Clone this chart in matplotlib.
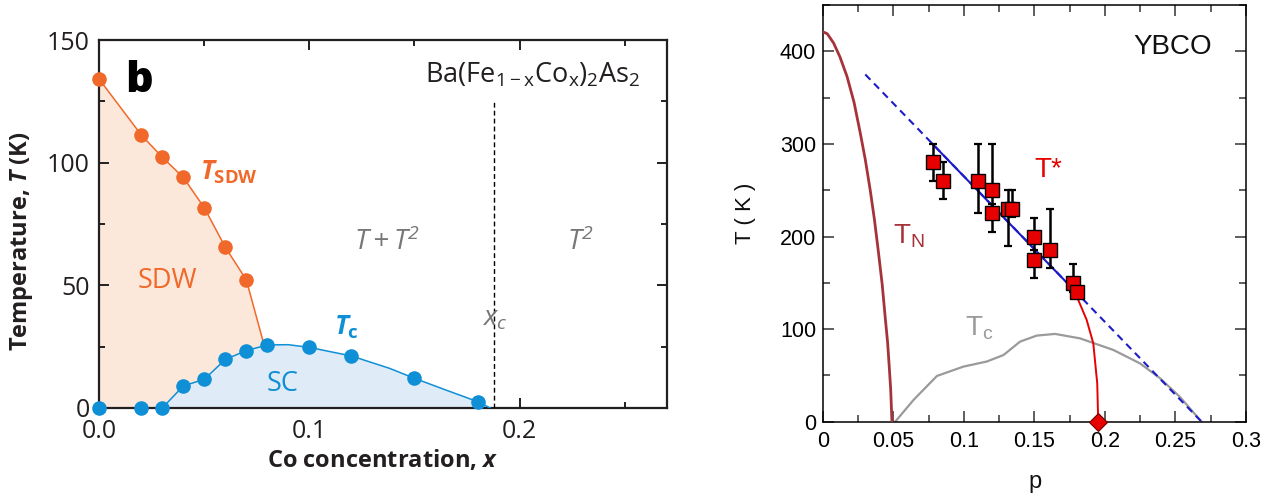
import matplotlib
matplotlib.use("Agg")
import matplotlib.pyplot as plt
from matplotlib.ticker import MultipleLocator

plt.rcParams['font.family'] = ['Open Sans', 'DejaVu Sans']
plt.rcParams['mathtext.fontset'] = 'custom'
plt.rcParams['mathtext.rm'] = 'Open Sans'
plt.rcParams['mathtext.it'] = 'Open Sans:italic:bold'
plt.rcParams['mathtext.bf'] = 'Open Sans:bold'

# ---------------- Left panel data: Ba(Fe1-xCox)2As2 ----------------
sdw_x = [0.0, 0.02, 0.03, 0.04, 0.05, 0.06, 0.07]
sdw_T = [134, 111.3, 102.2, 94, 81.6, 65.5, 52.2]
sdw_end_x = [0.078]
sdw_end_T = [27]

tc_x = [0.0, 0.02, 0.03, 0.04, 0.05, 0.06, 0.07, 0.08, 0.10, 0.12, 0.15, 0.18]
tc_T = [0, 0, 0, 9, 11.7, 19.8, 23.4, 25.7, 24.7, 21.2, 12.1, 2.6]
# points
tc_curve_x = [0.03, 0.04, 0.05, 0.06, 0.07, 0.08, 0.09, 0.10, 0.12, 0.138, 0.15, 0.165, 0.18, 0.186]
tc_curve_T = [0, 9, 11.7, 19.8, 23.4, 25.7, 25.8, 24.7, 21.2, 16.2, 12.1, 7.3, 2.6, 0]

x_c = 0.188
x_c_top = 125

# ---------------- Right panel data: YBCO ----------------
tn_p = [0, 0.003, 0.0075, 0.012, 0.017, 0.022, 0.0264, 0.030, 0.0335, 0.0365,
        0.0394, 0.042, 0.0441, 0.0458, 0.047, 0.048, 0.0489]
tn_T = [421, 419, 409, 394, 373, 345, 312, 283, 250, 218,
        182, 148, 113, 86, 59, 35, 0]

tcy_p = [0.0512, 0.0642, 0.0808, 0.0996, 0.1162, 0.128, 0.1398, 0.1516, 0.1646,
         0.1823, 0.2059, 0.2248, 0.239, 0.253, 0.2685]
tcy_T = [0, 23.5, 49.4, 59.5, 65, 72, 86.5, 93, 94.8, 90, 77.5, 63, 47, 27, 0]

tstar_line_p = [0.03, 0.2685]
tstar_line_T = [375, 0]
tstar_solid_p = [0.077, 0.18]
tstar_solid_T = [301, 139]

red_p = [0.18, 0.181, 0.187, 0.1917, 0.1945, 0.1952]
red_T = [140, 131.6, 110, 84.7, 41.5, 0]

qcp_p = [0.195]
qcp_T = [0]

sq_p = [0.078, 0.085, 0.110, 0.120, 0.120, 0.131, 0.134, 0.150, 0.150, 0.161, 0.177, 0.180]
sq_T = [280, 260, 260, 250, 225, 230, 230, 200, 175, 185, 150, 140]
sq_lo = [260, 240, 225, 230, 205, 190, 221, 180, 155, 166, 140, 135]
sq_hi = [300, 280, 300, 300, 235, 250, 250, 220, 185, 230, 170, 150]

# ---------------- Figure ----------------
fig = plt.figure(figsize=(12.74, 4.97), dpi=100)

ORANGE = '#f0692a'
ORANGE_FILL = '#fce8da'
BLUE = '#0e8fd6'
BLUE_FILL = '#dfecf8'
GRAYTXT = '#777777'
DARK = '#231f20'

ax = fig.add_axes([0.0779, 0.1791, 0.4454, 0.7404])
ax.set_xlim(0, 0.27)
ax.set_ylim(0, 150)

line_x = sdw_x + sdw_end_x
line_T = sdw_T + sdw_end_T
ax.fill_between(line_x, line_T, 0, color=ORANGE_FILL, lw=0, zorder=1)
ax.fill_between(tc_curve_x, tc_curve_T, 0, color=BLUE_FILL, lw=0, zorder=2)
ax.plot(line_x, line_T, color=ORANGE, lw=1.1, zorder=3)
ax.plot(tc_curve_x, tc_curve_T, color=BLUE, lw=1.1, zorder=3)
ax.plot(sdw_x, sdw_T, 'o', color=ORANGE, ms=10.5, mec='none', zorder=5, clip_on=False)
ax.plot(tc_x, tc_T, 'o', color=BLUE, ms=10.5, mec='none', zorder=5, clip_on=False)
ax.plot([x_c, x_c], [0, x_c_top], color='black', lw=1.0, ls=(0, (3.5, 2.2)), zorder=3)

for s in ax.spines.values():
    s.set_linewidth(1.6)
    s.set_color(DARK)
ax.xaxis.set_major_locator(MultipleLocator(0.1))
ax.xaxis.set_minor_locator(MultipleLocator(0.05))
ax.yaxis.set_major_locator(MultipleLocator(50))
ax.yaxis.set_minor_locator(MultipleLocator(25))
ax.set_xticks([0.0, 0.1, 0.2])
ax.set_xticklabels(['0.0', '0.1', '0.2'])
ax.tick_params(which='both', direction='in', top=True, right=True, color=DARK,
               labelsize=18, labelcolor=DARK, width=1.4)
ax.tick_params(which='major', length=7)
ax.tick_params(which='minor', length=4.5)
ax.tick_params(axis='x', pad=8)
ax.tick_params(axis='y', pad=7)

ax.text(0.0122, 128.9, 'b', fontsize=31, fontweight='heavy', color='black',
        ha='left', va='baseline')
ax.text(0.2575, 132.5, r'$\mathregular{Ba(Fe_{1-x}Co_x)_2As_2}$', fontsize=19.5,
        color=DARK, ha='right', va='baseline')
ax.text(0.048, 93, r'$T_\mathregular{SDW}$', fontsize=19, fontweight='bold',
        color=ORANGE, ha='left', va='baseline')
ax.text(0.0324, 49, 'SDW', fontsize=19.5, color=ORANGE, ha='center', va='baseline')
ax.text(0.137, 64.4, r'$\mathregular{T + T^2}$', fontsize=20, style='italic',
        color=GRAYTXT, ha='center', va='baseline')
ax.text(0.229, 64.4, r'$\mathregular{T^2}$', fontsize=20, style='italic',
        color=GRAYTXT, ha='center', va='baseline')
ax.text(0.188, 33.8, r'$\mathregular{x_c}$', fontsize=20, style='italic',
        color=GRAYTXT, ha='center', va='baseline')
ax.text(0.1118, 29.8, r'$T_\mathregular{c}$', fontsize=19, fontweight='bold',
        color=BLUE, ha='left', va='baseline')
ax.text(0.0872, 7.1, 'SC', fontsize=19.5, color=BLUE, ha='center', va='baseline')

fig.text(22 / 1274, 1 - 241 / 497, r'Temperature, $T$ (K)', rotation=90,
         fontsize=17, fontweight='bold', color=DARK, ha='center', va='center')
fig.text(383 / 1274, 1 - 460 / 497, r'Co concentration, $x$',
         fontsize=17, fontweight='bold', color=DARK, ha='center', va='center')

# ---------------- Right panel ----------------
RF = ['Liberation Sans', 'DejaVu Sans']
TN_COL = '#a63339'
RED = '#e60000'
GRAYC = '#9a9a9a'
LBLUE = '#1c1cc8'

ax2 = fig.add_axes([0.646, 0.1515, 0.3320, 0.8384])
ax2.set_xlim(0, 0.3)
ax2.set_ylim(0, 450)

ax2.plot(tn_p, tn_T, color=TN_COL, lw=2.0, zorder=3)
ax2.plot(tcy_p, tcy_T, color=GRAYC, lw=1.6, zorder=2)
ax2.plot(tstar_line_p, tstar_line_T, color=LBLUE, lw=1.5, ls=(0, (3.5, 2.5)), zorder=3)
ax2.plot(tstar_solid_p, tstar_solid_T, color=LBLUE, lw=1.5, zorder=3)
ax2.plot(red_p, red_T, color=RED, lw=1.4, zorder=3)
for p, t, lo, hi in zip(sq_p, sq_T, sq_lo, sq_hi):
    ax2.errorbar([p], [t], yerr=[[t - lo], [hi - t]], fmt='none', ecolor='black',
                 elinewidth=1.8, capsize=3, capthick=1.6, zorder=4)
for p, t in zip(sq_p, sq_T):
    ax2.plot([p], [t], 's', color=RED, mec='black', mew=1.0, ms=9.5, zorder=5)
ax2.plot(qcp_p, qcp_T, 'D', color=RED, mec='#700000', mew=0.8, ms=9.5, zorder=6,
         clip_on=False)

for s in ax2.spines.values():
    s.set_linewidth(1.1)
    s.set_color('black')
ax2.xaxis.set_major_locator(MultipleLocator(0.05))
ax2.xaxis.set_minor_locator(MultipleLocator(0.025))
ax2.yaxis.set_major_locator(MultipleLocator(100))
ax2.yaxis.set_minor_locator(MultipleLocator(50))
ax2.set_xticks([0, 0.05, 0.1, 0.15, 0.2, 0.25, 0.3])
ax2.set_xticklabels(['0', '0.05', '0.1', '0.15', '0.2', '0.25', '0.3'])
ax2.set_yticks([0, 100, 200, 300, 400])
ax2.set_yticklabels(['0', '100', '200', '300', '400'])
ax2.tick_params(which='both', direction='in', top=True, right=True, color='#333333',
                labelsize=15.5, width=1.1)
ax2.tick_params(which='major', length=8)
ax2.tick_params(which='minor', length=5)
ax2.tick_params(axis='x', pad=7)
ax2.tick_params(axis='y', pad=5)
for lab in ax2.get_xticklabels() + ax2.get_yticklabels():
    lab.set_family(RF)

ax2.text(0.2482, 405, 'YBCO', fontsize=20, family=RF, color='#111111',
         ha='center', va='center')
ax2.text(0.1596, 272, 'T*', fontsize=20, family=RF, color=RED,
         ha='center', va='center')
ax2.text(0.0498, 193, r'T$_\mathregular{N}$', fontsize=20, family=RF, color=TN_COL,
         ha='left', va='baseline')
ax2.text(0.1007, 93.7, r'T$_\mathregular{c}$', fontsize=20, family=RF, color=GRAYC,
         ha='left', va='baseline')

fig.text(745 / 1274, 1 - 213 / 497, 'T ( K )', rotation=90, fontsize=16,
         family=RF, color='#111111', ha='center', va='center')
fig.text(1035 / 1274, 1 - 482 / 497, 'p', fontsize=17, family=RF, color='#111111',
         ha='center', va='center')

fig.savefig('out.png', dpi=100)
